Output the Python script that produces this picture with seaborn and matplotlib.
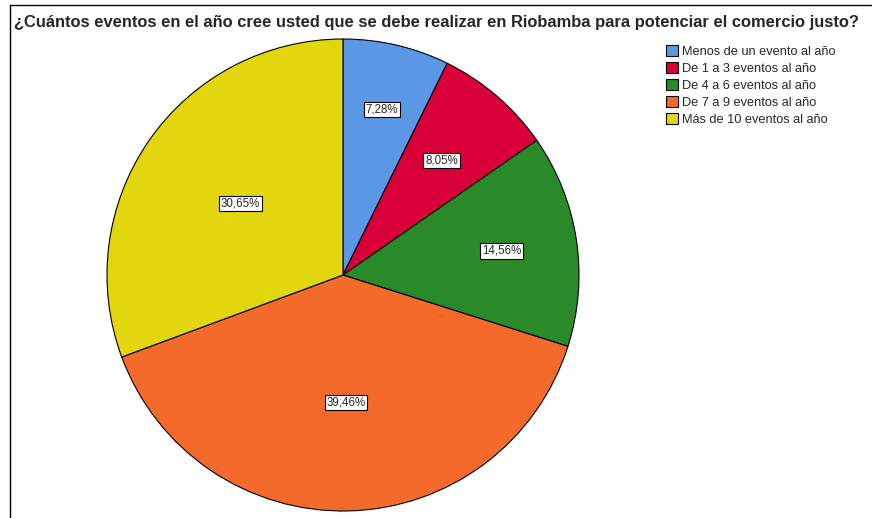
import numpy as np
import matplotlib.pyplot as plt
import seaborn as sns
from matplotlib.lines import Line2D

# data
categorias = ["Menos de un evento al año", "De 1 a 3 eventos al año",
              "De 4 a 6 eventos al año", "De 7 a 9 eventos al año",
              "Más de 10 eventos al año"]
porcentajes = [7.28, 8.05, 14.56, 39.46, 30.65]
colores = ["#5A98E6", "#D9003A", "#2A8A2A", "#F46A2B", "#E2D60E"]
dist_etiqueta = [0.72, 0.64, 0.68, 0.54, 0.53]

sns.set_theme(style="white")
plt.rcParams["font.family"] = ["Liberation Sans", "DejaVu Sans"]

fig = plt.figure(figsize=(8.72, 5.18), dpi=100)
ax = fig.add_axes([107/872, 1 - 511/518, 472/872, 472/518])

wedges, _ = ax.pie(porcentajes, colors=colores, startangle=90, counterclock=False,
                   wedgeprops=dict(edgecolor="black", linewidth=0.8))
ax.set_xlim(-1, 1)
ax.set_ylim(-1, 1)
ax.set_aspect("equal")

for w, p, d in zip(wedges, porcentajes, dist_etiqueta):
    ang = np.deg2rad((w.theta1 + w.theta2) / 2)
    ax.text(d * np.cos(ang), d * np.sin(ang), f"{p:.2f}%".replace(".", ","),
            ha="center", va="center", fontsize=8.3,
            bbox=dict(boxstyle="square,pad=0.15", facecolor="white",
                      edgecolor="black", linewidth=0.8))

fig.text(437/872, 1 - 22/518,
         "¿Cuántos eventos en el año cree usted que se debe realizar en Riobamba para potenciar el comercio justo?",
         ha="center", va="center", fontsize=11.9, fontweight="bold")

fig.legend(wedges, categorias, loc="upper left", bbox_to_anchor=(666/872, 1 - 45/518),
           frameon=False, fontsize=9.2, handlelength=0.95, handleheight=0.95,
           handletextpad=0.3, labelspacing=0.32, borderaxespad=0, borderpad=0)

# outer frame lines (top and left)
fig.add_artist(Line2D([10/872, 1], [1 - 5/518, 1 - 5/518], color="black", linewidth=1))
fig.add_artist(Line2D([10/872, 10/872], [0, 1 - 5/518], color="black", linewidth=1))

fig.savefig("out.png", dpi=100)
